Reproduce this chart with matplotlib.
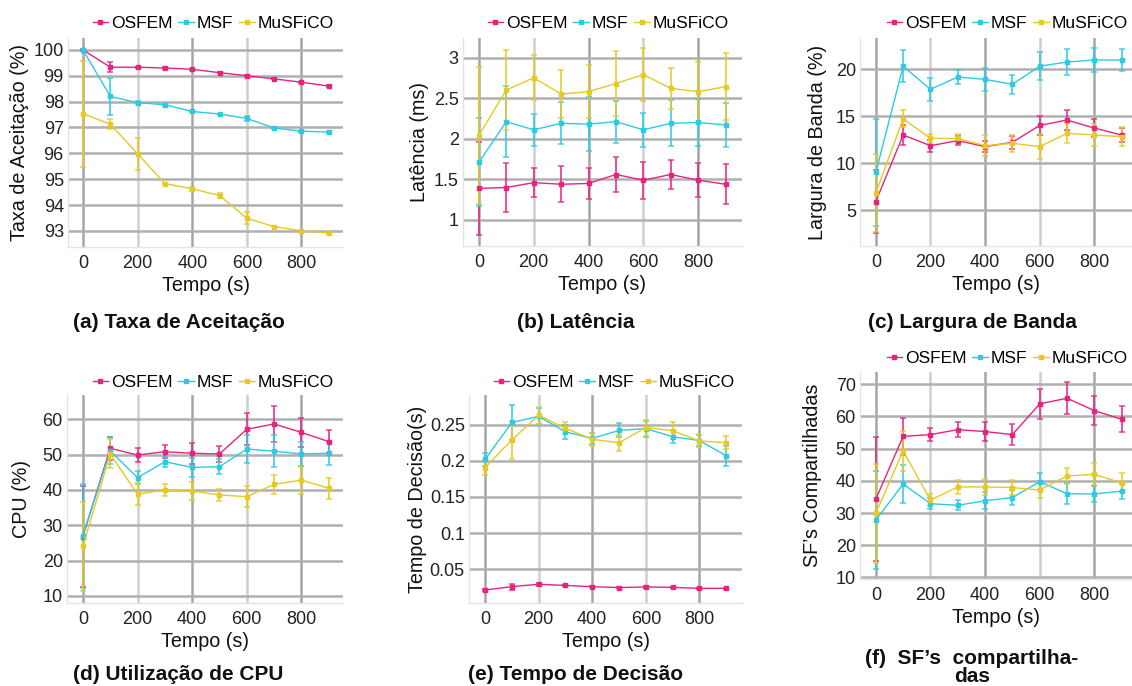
import numpy as np
import matplotlib
matplotlib.use("Agg")
import matplotlib.pyplot as plt

plt.rcParams['font.family'] = ['Liberation Sans', 'DejaVu Sans']

W, H = 1132, 686
tempo = [0, 100, 200, 300, 400, 500, 600, 700, 800, 900]
series_names = ['OSFEM', 'MSF', 'MuSFiCO']
colors = {'OSFEM': '#e6237f', 'MSF': '#2ccbe2', 'MuSFiCO': '#e6c924'}

# (a) Taxa de Aceitação (%)
aceit_osfem = [100.0, 99.33, 99.33, 99.30, 99.25, 99.12, 99.00, 98.88, 98.75, 98.60]
aceit_osfem_err = [0.02, 0.20, 0.02, 0.02, 0.02, 0.03, 0.02, 0.02, 0.02, 0.03]
aceit_msf = [100.0, 98.20, 97.96, 97.88, 97.62, 97.52, 97.35, 96.98, 96.86, 96.82]
aceit_msf_err = [0.02, 0.70, 0.05, 0.04, 0.03, 0.02, 0.10, 0.03, 0.02, 0.03]
aceit_musfico = [97.53, 97.13, 95.98, 94.83, 94.63, 94.37, 93.49, 93.17, 93.00, 92.92]
aceit_musfico_err = [2.05, 0.20, 0.62, 0.02, 0.08, 0.10, 0.24, 0.03, 0.02, 0.03]

# (b) Latência (ms)
lat_osfem = [1.39, 1.40, 1.46, 1.44, 1.45, 1.56, 1.49, 1.56, 1.49, 1.44]
lat_osfem_err = [0.57, 0.30, 0.18, 0.22, 0.19, 0.22, 0.23, 0.18, 0.21, 0.245]
lat_msf = [1.71, 2.21, 2.11, 2.19, 2.18, 2.21, 2.11, 2.19, 2.20, 2.17]
lat_msf_err = [0.54, 0.44, 0.195, 0.26, 0.33, 0.26, 0.21, 0.285, 0.295, 0.27]
lat_musfico = [2.04, 2.60, 2.75, 2.55, 2.58, 2.68, 2.79, 2.62, 2.58, 2.64]
lat_musfico_err = [0.84, 0.49, 0.275, 0.30, 0.33, 0.40, 0.33, 0.255, 0.37, 0.415]

# (c) Largura de Banda (%)
banda_osfem = [5.9, 12.98, 11.84, 12.38, 11.74, 12.2, 14.0, 14.57, 13.72, 12.98]
banda_osfem_err = [3.37, 1.06, 0.65, 0.5, 0.6, 0.7, 1.0, 1.06, 0.95, 0.75]
banda_msf = [9.0, 20.3, 17.84, 19.15, 18.9, 18.37, 20.3, 20.74, 20.96, 20.96]
banda_msf_err = [5.7, 1.7, 1.2, 0.7, 1.2, 1.0, 1.5, 1.4, 1.3, 1.15]
banda_musfico = [6.8, 14.7, 12.62, 12.62, 11.84, 12.1, 11.74, 13.16, 12.98, 12.8]
banda_musfico_err = [4.17, 0.9, 0.5, 0.5, 1.1, 0.9, 1.3, 1.06, 1.2, 1.0]

# (d) Utilização de CPU (%)
cpu_osfem = [26.8, 51.8, 49.9, 50.85, 50.4, 50.2, 57.2, 58.7, 56.3, 53.7]
cpu_osfem_err = [14.4, 3.3, 2.0, 1.9, 2.9, 2.3, 4.5, 5.2, 4.1, 3.2]
cpu_msf = [27.0, 51.1, 43.5, 48.0, 46.4, 46.6, 51.6, 51.0, 50.2, 50.4]
cpu_msf_err = [14.8, 3.8, 1.75, 1.35, 2.6, 2.1, 3.9, 4.6, 3.5, 3.2]
cpu_musfico = [24.0, 50.2, 38.8, 40.0, 39.7, 38.6, 38.1, 41.6, 42.8, 40.5]
cpu_musfico_err = [12.7, 4.1, 3.1, 1.7, 2.5, 1.75, 2.9, 2.7, 3.8, 3.0]

# (e) Tempo de Decisão (s)
dec_osfem = [0.0214, 0.026, 0.0293, 0.0277, 0.026, 0.0247, 0.0256, 0.025, 0.0237, 0.0237]
dec_osfem_err = [0.002, 0.004, 0.002, 0.001, 0.001, 0.001, 0.001, 0.001, 0.001, 0.001]
dec_msf = [0.202, 0.253, 0.2615, 0.240, 0.231, 0.242, 0.2445, 0.2334, 0.228, 0.207]
dec_msf_err = [0.009, 0.024, 0.011, 0.010, 0.008, 0.0097, 0.011, 0.009, 0.0075, 0.014]
dec_musfico = [0.1906, 0.229, 0.263, 0.245, 0.2297, 0.225, 0.246, 0.2417, 0.2274, 0.225]
dec_musfico_err = [0.010, 0.026, 0.0115, 0.008, 0.009, 0.011, 0.011, 0.012, 0.008, 0.009]

# (f) SF's compartilhadas
sf_osfem = [34.3, 53.8, 54.35, 55.9, 55.3, 54.35, 63.9, 65.65, 61.8, 59.1]
sf_osfem_err = [19.3, 5.7, 2.1, 2.3, 3.0, 3.3, 4.7, 4.9, 4.5, 4.0]
sf_msf = [27.8, 39.0, 32.9, 32.4, 33.8, 34.8, 39.7, 36.0, 35.9, 36.8]
sf_msf_err = [15.2, 5.9, 1.7, 1.5, 2.6, 2.4, 2.6, 3.3, 2.6, 2.3]
sf_musfico = [29.9, 49.3, 34.0, 38.1, 38.1, 37.9, 37.15, 41.5, 42.0, 39.4]
sf_musfico_err = [15.3, 6.3, 1.9, 2.2, 2.6, 2.3, 2.6, 2.4, 3.4, 3.1]

panels = [
    dict(rect=(68, 38, 343, 247), xlim=(-55, 952), ylim=(92.38, 100.46),
         yticks=[93, 94, 95, 96, 97, 98, 99, 100],
         ylabel='Taxa de Aceitação (%)', ylab_x=29,
         data=[(aceit_osfem, aceit_osfem_err), (aceit_msf, aceit_msf_err), (aceit_musfico, aceit_musfico_err)],
         legend=(213, 23), caption=('(a) Taxa de Aceitação', 179, 328)),
    dict(rect=(463, 38, 742, 246), xlim=(-58, 960), ylim=(0.68, 3.24),
         yticks=[1, 1.5, 2, 2.5, 3],
         ylabel='Latência (ms)', ylab_x=429,
         data=[(lat_osfem, lat_osfem_err), (lat_msf, lat_msf_err), (lat_musfico, lat_musfico_err)],
         legend=(608, 23), caption=('(b) Latência', 576, 328)),
    dict(rect=(860, 38, 1132, 246), xlim=(-58, 938), ylim=(1.17, 23.3),
         yticks=[5, 10, 15, 20],
         ylabel='Largura de Banda (%)', ylab_x=827,
         data=[(banda_osfem, banda_osfem_err), (banda_msf, banda_msf_err), (banda_musfico, banda_musfico_err)],
         legend=(1007, 23), caption=('(c) Largura de Banda', 972, 328)),
    dict(rect=(67, 395, 343, 603), xlim=(-58, 952), ylim=(8.0, 66.9),
         yticks=[10, 20, 30, 40, 50, 60],
         ylabel='CPU (%)', ylab_x=31,
         data=[(cpu_osfem, cpu_osfem_err), (cpu_msf, cpu_msf_err), (cpu_musfico, cpu_musfico_err)],
         legend=(213, 382), caption=('(d) Utilização de CPU', 178, 680)),
    dict(rect=(469, 395, 742, 603), xlim=(-60, 959), ylim=(0.0034, 0.291),
         yticks=[0.05, 0.1, 0.15, 0.2, 0.25],
         ylabel='Tempo de Decisão(s)', ylab_x=427,
         data=[(dec_osfem, dec_osfem_err), (dec_msf, dec_msf_err), (dec_musfico, dec_musfico_err)],
         legend=(614, 382), caption=('(e) Tempo de Decisão', 576, 680)),
    dict(rect=(860, 372, 1132, 579), xlim=(-58, 938), ylim=(9.5, 73.8),
         yticks=[10, 20, 30, 40, 50, 60, 70],
         ylabel='SF’s Compartilhadas', ylab_x=822,
         data=[(sf_osfem, sf_osfem_err), (sf_msf, sf_msf_err), (sf_musfico, sf_musfico_err)],
         legend=(1007, 358), caption=('(f)  SF’s  compartilha-\ndas', 972, 682)),
]

fig = plt.figure(figsize=(W / 100, H / 100), dpi=100)

for p in panels:
    x0, y0, x1, y1 = p['rect']
    ax = fig.add_axes([x0 / W, 1 - y1 / H, (x1 - x0) / W, (y1 - y0) / H])
    ax.set_xlim(p['xlim'])
    ax.set_ylim(p['ylim'])

    # grid
    for xv in [0, 200, 400, 600, 800]:
        ax.axvline(xv, color='#a6a6a6' if xv % 400 == 0 else '#cfcfcf', lw=1.8, zorder=0)
    for yv in p['yticks']:
        ax.axhline(yv, color='#b0b0b0', lw=1.8, zorder=0)

    for name, (vals, errs) in zip(series_names, p['data']):
        c = colors[name]
        ax.errorbar(tempo, vals, yerr=errs, fmt='none', ecolor=c, elinewidth=1.4,
                    capsize=2.2, capthick=1.2, alpha=0.8, zorder=2)
        ax.plot(tempo, vals, color=c, lw=1.0, marker='s', markersize=2.5,
                label=name, zorder=3)

    ax.set_xticks([0, 200, 400, 600, 800])
    ax.set_yticks(p['yticks'])
    ax.set_yticklabels(['{:g}'.format(v) for v in p['yticks']])
    ax.tick_params(length=0, labelsize=13, pad=3, colors='#222222')
    ax.tick_params(axis='x', pad=6)
    for s in ['top', 'right']:
        ax.spines[s].set_visible(False)
    for s in ['left', 'bottom']:
        ax.spines[s].set_color('#dfe5ef')
        ax.spines[s].set_linewidth(1.0)

    ax.set_ylabel(p['ylabel'], fontsize=14.2, color='#111111')
    ax.yaxis.set_label_coords((p['ylab_x'] - x0) / (x1 - x0), 0.5)
    ax.set_xlabel('Tempo (s)', fontsize=14.2, color='#111111')
    ax.xaxis.set_label_coords(0.5, -29 / (y1 - y0))

    lx, ly = p['legend']
    ax.legend(loc='center', bbox_to_anchor=(lx / W, 1 - ly / H), bbox_transform=fig.transFigure,
              ncol=3, frameon=False, fontsize=12.5, handlelength=0.9, handletextpad=0.15,
              columnspacing=0.35, borderpad=0, borderaxespad=0)

    text, cx, by = p['caption']
    fig.text(cx / W, 1 - by / H, text, ha='center', va='baseline', multialignment='center',
             linespacing=0.95, fontsize=15, fontweight='bold', color='#111111')

fig.savefig('out.png', dpi=100)
